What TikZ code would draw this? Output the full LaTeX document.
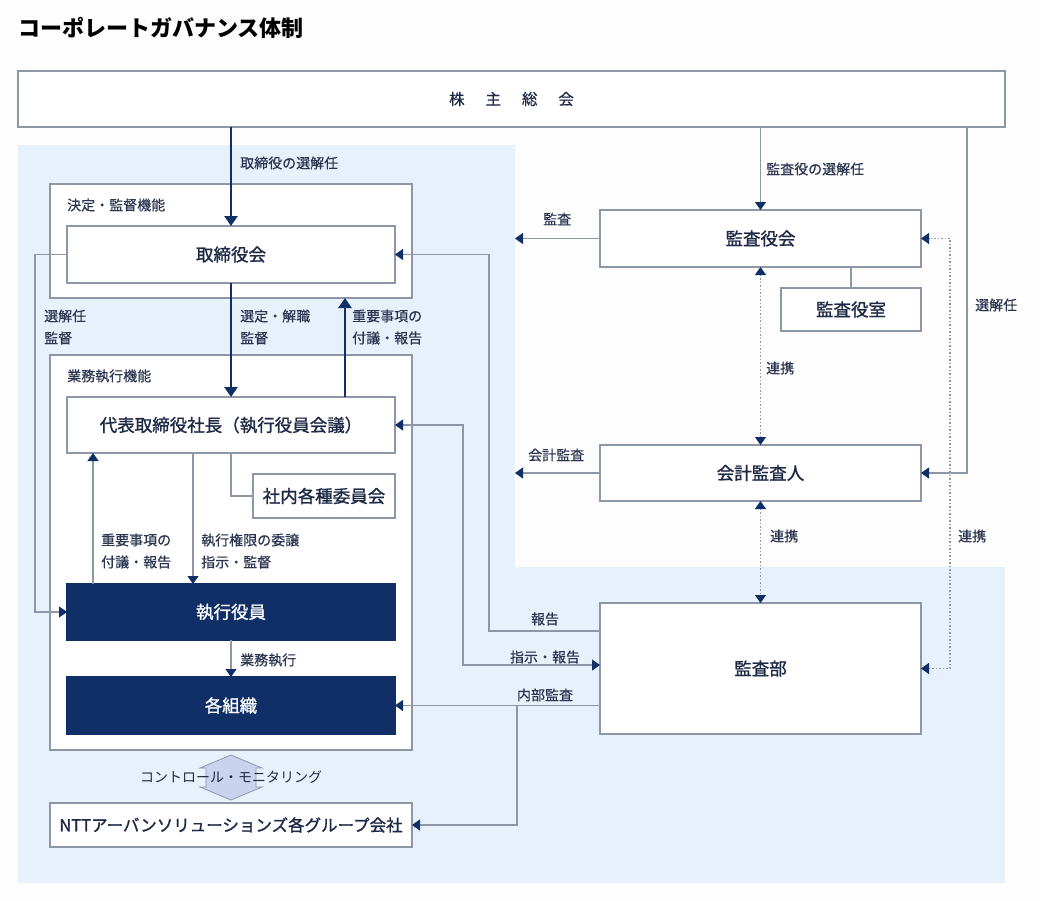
\documentclass[tikz,border=0pt]{standalone}
\usepackage{fontspec}
\setmainfont{Noto Sans CJK JP}
\newfontfamily\boxfont[FakeBold=1.2]{Noto Sans CJK JP}
\newfontfamily\lblfont[FakeBold=0.5]{Noto Sans CJK JP}
\usetikzlibrary{arrows.meta,calc}
\definecolor{navy}{HTML}{0F2F66}
\definecolor{lgray}{HTML}{8E97A8}
\definecolor{bgblue}{HTML}{E7F1FB}
\definecolor{txt}{HTML}{2B3550}
\definecolor{boxtxt}{HTML}{1E2946}
\definecolor{hexfill}{HTML}{C9D3EE}
\definecolor{pagebg}{HTML}{FDFDFE}
\begin{document}
\begin{tikzpicture}[x=1pt,y=-1pt,
  box/.style={draw=lgray, line width=1.1pt, fill=white, inner sep=0pt, outer sep=0pt, text=boxtxt, font=\boxfont\fontsize{17.5}{20}\selectfont},
  frame/.style={draw=lgray, line width=1.1pt, fill=white, inner sep=0pt, outer sep=0pt},
  navybox/.style={fill=navy, draw=navy, line width=1.1pt, inner sep=0pt, outer sep=0pt, text=white, font=\boxfont\fontsize{17.5}{20}\selectfont},
  lbl/.style={text=txt, font=\lblfont\fontsize{14}{22}\selectfont, anchor=west, inner sep=0pt, align=left},
  thin/.style={draw=lgray, line width=1.1pt},
  tip/.style={thin, -{Triangle[length=8pt,width=11pt,color=navy]}},
  dtip/.style={thin, {Triangle[length=8pt,width=11pt,color=navy]}-{Triangle[length=8pt,width=11pt,color=navy]}},
  dots/.style={dash pattern=on 1.3pt off 2.2pt},
  bold/.style={draw=navy, line width=2.6pt, -{Triangle[length=10pt,width=13pt]}}
]
\useasboundingbox (0,0) rectangle (1040,900);
\fill[pagebg] (0,0) rectangle (1040,900);
\fill[bgblue] (18,145) rectangle (515,883);
\fill[bgblue] (515,567) rectangle (1005,883);

% title
\node[anchor=west, inner sep=0pt, font=\fontsize{22}{24}\selectfont\bfseries, text=black] (title) at (18,28) {コーポレートガバナンス体制};

% boxes
\node[box, font=\lblfont\fontsize{15.5}{18}\selectfont, minimum width=987pt, minimum height=56pt] (sh) at (511.5,99) {株\hspace{1.35em}主\hspace{1.35em}総\hspace{1.35em}会};
\node[frame, minimum width=362pt, minimum height=114pt] (fo1) at (231,241) {};
\node[frame, minimum width=362pt, minimum height=395pt] (fo2) at (231,552.5) {};
\node[box, minimum width=328pt, minimum height=57pt] (bod) at (231,254.5) {取締役会};
\node[box, minimum width=328pt, minimum height=56pt] (pres) at (231,425) {代表取締役社長（執行役員会議）};
\node[box, minimum width=142pt, minimum height=44pt] (comm) at (324,496) {社内各種委員会};
\node[navybox, minimum width=328pt, minimum height=56pt] (exec) at (231,612) {執行役員};
\node[navybox, minimum width=328pt, minimum height=57pt] (org) at (231,705.5) {各組織};
\node[box, font=\boxfont\fontsize{16.5}{20}\selectfont, minimum width=362pt, minimum height=44pt] (ntt) at (231,825) {NTTアーバンソリューションズ各グループ会社};
\node[box, minimum width=321pt, minimum height=57pt] (kansa) at (760.5,238.5) {監査役会};
\node[box, minimum width=140pt, minimum height=43pt] (kroom) at (851,309.5) {監査役室};
\node[box, minimum width=321pt, minimum height=56pt] (audit) at (760.5,473) {会計監査人};
\node[box, minimum width=321pt, minimum height=131pt] (iad) at (760.5,668.5) {監査部};

% frame labels
\node[lbl] (l1) at (67,205) {決定・監督機能};
\node[lbl] (l2) at (67,376) {業務執行機能};

% helper columns / points
\coordinate (c35) at (35,0);
\coordinate (c92) at (93,0);
\coordinate (c193) at (193,0);
\coordinate (c345) at (345,0);
\coordinate (c463) at (463,0);
\coordinate (c489) at (489,0);
\coordinate (c517) at (517,0);
\coordinate (c950) at (950,0);
\coordinate (c967) at (967,0);
\coordinate (kL) at (515,238.5);
\coordinate (aL) at (515,473);
\coordinate (r631) at (600,631);
\coordinate (r665) at (600,665);

% bold arrows
\draw[bold] (bod.north |- sh.south) -- (bod.north);
\draw[bold] (bod.south) -- (pres.north);
\draw[bold] (c345 |- pres.north) -- (c345 |- fo1.south);

% thin connectors left
\draw[tip] (bod.west) -- (c35 |- bod.west) |- (exec.west);
\draw[tip] (c193 |- pres.south) -- (c193 |- exec.north);
\draw[tip] (c92 |- exec.north) -- (c92 |- pres.south);
\draw[thin] (pres.south) |- (comm.west);
\draw[tip] (exec.south) -- (org.north);

% right side connectors
\draw[tip] (kansa.north |- sh.south) -- (kansa.north);
\draw[tip] (kansa.west) -- (kL);
\draw[tip] (c967 |- sh.south) |- (audit.east);
\draw[thin] (kroom.north |- kansa.south) -- (kroom.north);
\draw[dtip, dots] (kansa.south) -- (audit.north);
\draw[dtip, dots] (audit.south) -- (iad.north);
\draw[dtip, dots] (iad.east) -- (c950 |- iad.east) |- (kansa.east);
\draw[tip] (audit.west) -- (aL);

% audit dept to left
\draw[tip] (r631) -- (c489 |- r631) |- (bod.east);
\draw[dtip] (pres.east) -- (c463 |- pres.east) |- (r665);
\draw[tip] (org.east -| iad.west) -- (org.east);
\draw[tip] (c517 |- org.east) |- (ntt.east);

% control / monitoring double arrow
\filldraw[fill=hexfill, draw=lgray, line width=0.8pt] (231,755) -- (262,768) -- (256,768) -- (256,787) -- (262,787) -- (231,800) -- (200,787) -- (206,787) -- (206,768) -- (200,768) -- cycle;
\node[inner sep=0pt, text=txt!80!black, font=\fontsize{14}{16}\selectfont] (cm) at (231,777) {コントロール・モニタリング};

% labels
\node[lbl] at (240,163) {取締役の選解任};
\node[lbl] at (240,327) {選定・解職\\監督};
\node[lbl] at (352,327) {重要事項の\\付議・報告};
\node[lbl] at (44,327) {選解任\\監督};
\node[lbl] at (101,551) {重要事項の\\付議・報告};
\node[lbl] at (201,551) {執行権限の委譲\\指示・監督};
\node[lbl] at (240,660) {業務執行};
\node[lbl] at (766,169) {監査役の選解任};
\node[lbl] at (543,219) {監査};
\node[lbl] at (975,305) {選解任};
\node[lbl] at (766,368) {連携};
\node[lbl] at (528,455) {会計監査};
\node[lbl] at (770,536) {連携};
\node[lbl] at (958,536) {連携};
\node[lbl, anchor=center] at (545,619) {報告};
\node[lbl, anchor=center] at (545,657) {指示・報告};
\node[lbl, anchor=center] at (545,695) {内部監査};
\end{tikzpicture}
\end{document}
